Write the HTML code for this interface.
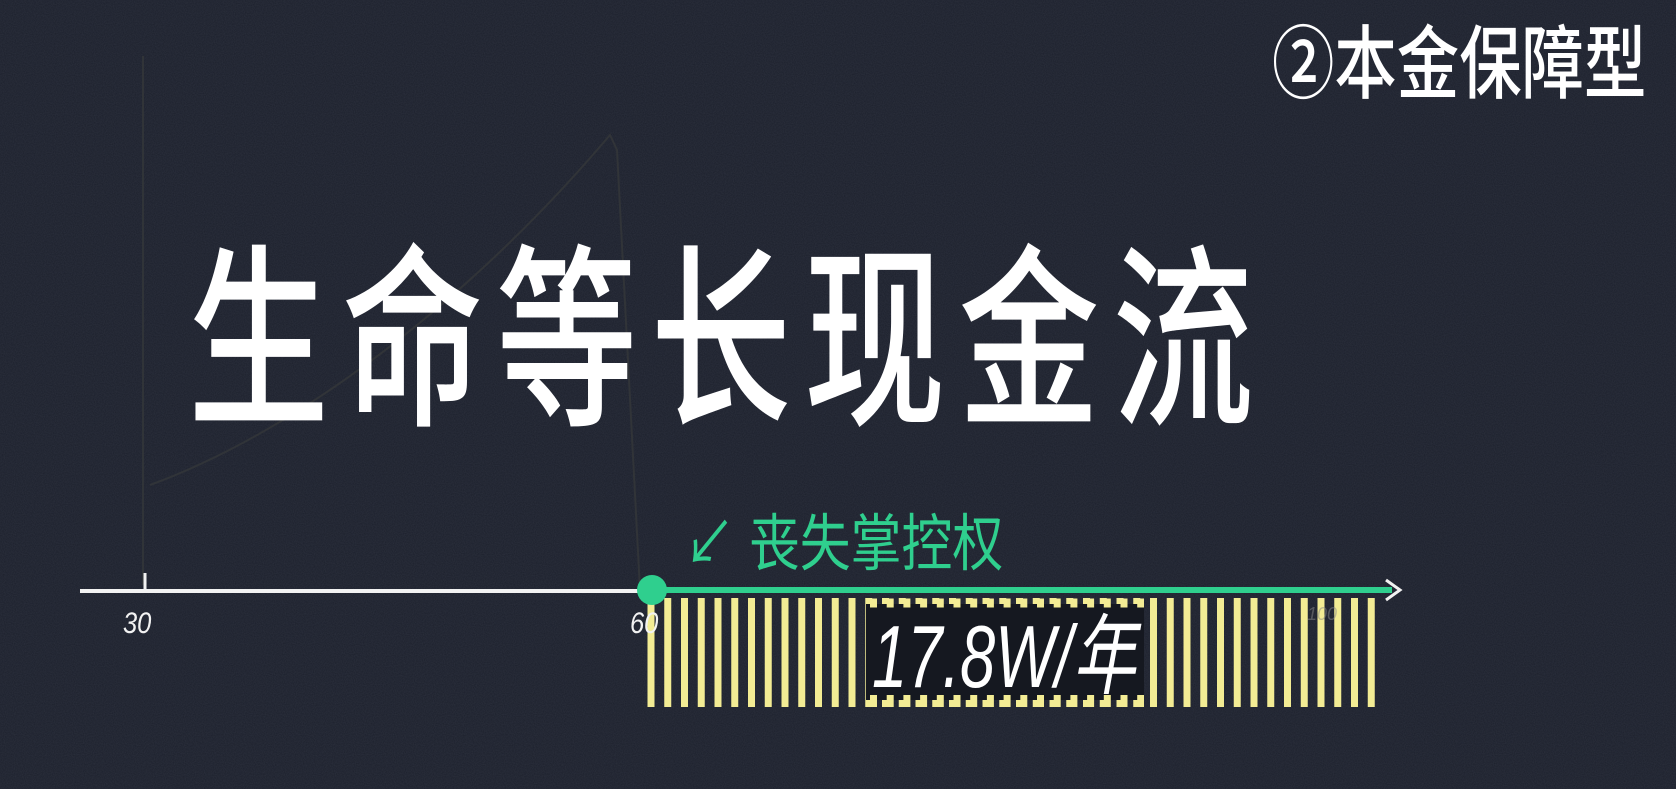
<!DOCTYPE html>
<html><head><meta charset="utf-8"><style>
html,body{margin:0;padding:0;}
body{width:1676px;height:789px;overflow:hidden;background:#1c202c;position:relative;font-family:"Liberation Sans","Noto Sans CJK SC",sans-serif;}
.t{position:absolute;white-space:nowrap;transform-origin:0 0;}
</style></head><body>
<svg width="1676" height="789" style="position:absolute;left:0;top:0">
<defs>
<filter id="n"><feTurbulence type="fractalNoise" baseFrequency="0.9" numOctaves="2" seed="3"/><feColorMatrix values="0 0 0 0 0.2  0 0 0 0 0.22  0 0 0 0 0.28  0 0 0 0.5 0"/></filter>
</defs>
<rect width="1676" height="789" fill="#1c202c"/>
<rect width="1676" height="789" filter="url(#n)" opacity="0.35"/>
<g id="ghost" stroke="#34373a" stroke-width="2" fill="none" opacity="0.8">
<line x1="143" y1="56" x2="143" y2="585"/>
<path d="M150 485 C 300 430, 470 300, 610 135 L 617 150 L 640 590"/>
</g>
<g id="bars"></g>
<g>
<rect x="866" y="604" width="278" height="96" fill="#151820"/>
<line x1="870" y1="603" x2="1144" y2="603" stroke="#f3ec94" stroke-width="9" stroke-dasharray="7 9.7"/>
<line x1="870" y1="701" x2="1144" y2="701" stroke="#f3ec94" stroke-width="12" stroke-dasharray="7 9.7"/>
</g>
<line x1="80" y1="591" x2="652" y2="591" stroke="#f2f2f2" stroke-width="4"/>
<line x1="145" y1="573" x2="145" y2="591" stroke="#f2f2f2" stroke-width="3"/>
<line x1="650" y1="590" x2="1392" y2="590" stroke="#2fcf8e" stroke-width="6"/>
<path d="M1386 580 L1400 590 L1386 600" fill="none" stroke="#f2f2f2" stroke-width="3"/>
<circle cx="652" cy="590" r="15" fill="#2fcf8e"/>
<text x="123" y="633" fill="#f2f2f2" font-size="30" font-style="italic" transform="translate(123 0) scale(0.85 1) translate(-123 0)" font-family="Liberation Sans">30</text>
<text x="630" y="633" fill="#f2f2f2" font-size="30" font-style="italic" transform="translate(630 0) scale(0.85 1) translate(-630 0)" font-family="Liberation Sans">60</text>
<text x="1307" y="620" fill="#8a8a8a" font-size="18" font-style="italic" opacity="0.5" font-family="Liberation Sans">100</text>
<text x="1004" y="687" fill="#ffffff" font-size="88" font-style="italic" text-anchor="middle" transform="translate(1004 0) scale(0.72 1) translate(-1004 0)" font-family="Liberation Sans,Noto Sans CJK SC,sans-serif">17.8W/年</text>
</svg>
<div class="t" style="left:188px;top:245px;font-size:196px;line-height:196px;color:#fff;font-weight:500;letter-spacing:18px;transform:scaleX(0.72);">生命等长现金流</div>
<div class="t" style="left:684px;top:510px;font-size:62px;line-height:70px;color:#2fcf8e;font-weight:400;transform:scaleX(0.82);">↙ 丧失掌控权</div>
<div class="t" style="left:1272px;top:20px;font-size:80px;line-height:90px;color:#fff;font-weight:500;transform:scaleX(0.78);">②本金保障型</div>
<script>
const ages = [];
for (let a = 60; a <= 103; a++) ages.push(a); // payout years
const payouts = ages.map(() => 17.8);
const startAge = 60, endAge = 103;
const x0 = 651, pxPerYear = 16.75, yTop = 598, yBottom = 707, maxVal = 17.8;
function xScale(age){ return x0 + (age - startAge) * pxPerYear; }
function hScale(v){ return (v / maxVal) * (yBottom - yTop); }
const g = document.getElementById('bars');
ages.forEach((age, i) => {
  const r = document.createElementNS('http://www.w3.org/2000/svg','rect');
  const h = hScale(payouts[i]);
  r.setAttribute('x', xScale(age) - 3.5);
  r.setAttribute('y', yBottom - h);
  r.setAttribute('width', 7);
  r.setAttribute('height', h);
  r.setAttribute('fill', '#f3ec94');
  
  
  g.appendChild(r);
});
</script>
</body></html>
